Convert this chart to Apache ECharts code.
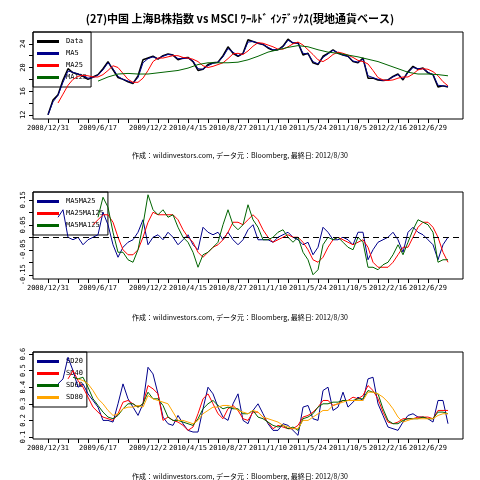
<!DOCTYPE html>
<html><head><meta charset="utf-8">
<script src="https://cdn.jsdelivr.net/npm/echarts@6/dist/echarts.min.js"></script>
<style>html,body{margin:0;padding:0;background:#fff}#c{width:480px;height:480px}</style>
</head><body><div id="c"></div>
<script>
const tickLabels = {0:'2008/12/31',10:'2009/6/17',20:'2009/12/2',28:'2010/4/15',36:'2010/8/27',44:'2011/1/10',52:'2011/5/24',60:'2011/10/5',68:'2012/2/16',76:'2012/6/29'};
const title = '(27)中国 上海B株指数 vs MSCI ﾜｰﾙﾄﾞ ｲﾝﾃﾞｯｸｽ(現地通貨ベース)';
const footnote = '作成：wildinvestors.com, データ元：Bloomberg, 最終日: 2012/8/30';

// Panel 1 (start index, values per half-tick step)
const dataStart = 0;
const data = [12.0,14.5,15.4,17.9,19.8,19.1,18.9,18.5,18.0,18.4,18.8,19.8,21.0,19.6,18.3,18.0,17.6,17.3,18.6,21.3,21.6,21.9,21.4,22.0,22.3,22.1,21.3,21.6,21.7,21.0,19.5,19.7,20.5,20.8,20.9,22.0,23.5,22.4,21.9,22.4,24.7,24.4,24.1,23.9,23.3,22.9,23.0,23.6,24.8,24.1,24.2,22.1,22.4,20.8,20.5,21.9,22.4,23.0,22.4,22.1,21.9,21.0,20.8,21.6,18.2,18.2,17.9,17.8,17.9,18.5,18.9,17.9,19.3,20.2,19.7,19.9,19.1,18.8,16.7,16.9,16.7];
const ma5 = [12.0,14.2,15.3,17.5,19.4,19.2,18.9,18.6,18.2,18.3,18.7,19.6,20.8,19.8,18.5,18.0,17.7,17.4,18.3,20.8,21.5,21.8,21.5,21.9,22.2,22.1,21.5,21.5,21.6,21.1,19.8,19.7,20.3,20.7,20.9,21.8,23.2,22.6,22.0,22.3,24.3,24.4,24.1,23.9,23.4,23.0,23.0,23.5,24.6,24.2,24.1,22.4,22.3,21.0,20.6,21.7,22.3,22.9,22.5,22.1,21.9,21.1,20.9,21.4,18.6,18.3,18.0,17.8,17.9,18.4,18.8,18.1,19.1,20.0,19.8,19.8,19.2,18.8,17.0,16.9,16.8];
const ma25Start = 2;
const ma25 = [14.0,15.5,17.0,18.0,18.5,18.7,18.6,18.4,18.4,18.8,19.5,20.3,20.0,19.0,18.0,17.5,17.5,18.2,19.5,21.0,21.6,21.6,21.8,22.0,22.0,21.7,21.6,21.4,21.0,20.3,20.0,20.2,20.5,20.8,21.5,22.3,22.4,22.2,22.8,23.6,24.2,24.1,23.8,23.5,23.1,23.1,23.5,24.0,24.3,23.8,23.0,22.2,21.3,21.0,21.5,22.2,22.6,22.4,22.1,21.7,21.2,21.0,20.6,19.5,18.3,17.9,17.8,17.9,18.2,18.4,18.4,18.9,19.6,19.8,19.7,19.3,18.6,17.6,16.9];
const ma125Start = 10;
const ma125 = [17.7,18.4,18.9,19.0,18.9,18.9,19.1,19.3,19.5,19.9,20.5,20.8,20.8,20.8,20.9,21.3,21.9,22.6,23.0,23.4,23.7,23.5,23.0,22.6,22.4,22.1,21.8,21.4,21.0,20.4,19.8,19.2,18.9,18.9,18.8,18.6];

// Panel 2
const d1Start = 2;
const d1 = [0.08,0.11,0.0,-0.01,0.0,-0.03,-0.01,0.0,0.01,0.10,0.05,-0.03,-0.08,-0.04,-0.02,-0.01,0.02,0.07,-0.03,0.0,0.01,-0.01,0.02,0.0,-0.03,-0.01,0.01,-0.03,-0.05,0.04,0.02,0.01,0.02,-0.01,0.02,-0.01,-0.03,-0.01,0.03,0.05,-0.01,-0.01,-0.01,-0.02,0.0,0.01,0.02,0.0,-0.01,-0.03,-0.02,-0.07,-0.04,0.04,0.02,-0.01,-0.01,0.0,-0.01,-0.03,0.02,0.02,-0.09,-0.05,-0.02,-0.01,0.0,0.02,-0.01,-0.06,0.02,0.04,0.02,0.01,-0.01,-0.03,-0.09,-0.03,0.0];
const d2Start = 9;
const d2 = [0.05,0.07,0.09,0.09,0.06,0.0,-0.05,-0.07,-0.07,-0.05,0.0,0.06,0.10,0.09,0.09,0.09,0.09,0.07,0.03,0.0,-0.02,-0.06,-0.08,-0.06,-0.04,-0.03,-0.01,0.02,0.06,0.06,0.05,0.07,0.09,0.07,0.03,0.0,-0.02,-0.01,0.0,0.01,0.0,0.0,-0.02,-0.05,-0.09,-0.10,-0.08,-0.04,-0.01,0.0,-0.01,-0.02,-0.03,-0.02,-0.01,-0.04,-0.10,-0.12,-0.12,-0.12,-0.10,-0.07,-0.04,-0.04,0.0,0.04,0.06,0.06,0.04,0.0,-0.06,-0.10];
const d3Start = 10;
const d3 = [0.08,0.16,0.12,0.02,-0.06,-0.06,-0.09,-0.10,-0.05,0.05,0.17,0.11,0.09,0.11,0.08,0.09,0.04,0.0,-0.02,-0.06,-0.12,-0.07,-0.06,-0.04,-0.02,0.05,0.11,0.05,0.03,0.05,0.13,0.07,0.04,-0.01,-0.01,0.0,0.02,0.03,0.0,-0.02,0.0,-0.06,-0.09,-0.15,-0.13,-0.03,0.0,-0.01,0.0,-0.02,-0.04,-0.05,0.0,-0.02,-0.12,-0.12,-0.13,-0.11,-0.10,-0.07,-0.03,-0.07,-0.02,0.03,0.07,0.06,0.05,0.02,-0.10,-0.09,-0.09];

// Panel 3
const sd20Start = 2;
const sd20 = [0.42,0.45,0.58,0.50,0.40,0.42,0.36,0.32,0.28,0.20,0.20,0.19,0.30,0.42,0.33,0.28,0.23,0.30,0.52,0.48,0.36,0.22,0.18,0.17,0.23,0.18,0.14,0.13,0.13,0.27,0.40,0.36,0.28,0.22,0.20,0.30,0.36,0.20,0.18,0.26,0.30,0.24,0.18,0.14,0.14,0.18,0.17,0.14,0.11,0.28,0.29,0.21,0.20,0.38,0.40,0.26,0.28,0.37,0.28,0.31,0.34,0.32,0.45,0.46,0.30,0.23,0.16,0.15,0.14,0.19,0.23,0.24,0.22,0.22,0.21,0.19,0.32,0.32,0.18];
const sd40Start = 4;
const sd40 = [0.45,0.50,0.44,0.40,0.34,0.28,0.25,0.22,0.21,0.20,0.24,0.31,0.32,0.30,0.28,0.30,0.41,0.39,0.36,0.20,0.22,0.20,0.19,0.17,0.14,0.16,0.24,0.33,0.36,0.30,0.24,0.21,0.27,0.29,0.26,0.21,0.20,0.25,0.25,0.22,0.19,0.15,0.17,0.16,0.15,0.15,0.17,0.22,0.23,0.25,0.28,0.32,0.32,0.29,0.30,0.32,0.32,0.34,0.33,0.35,0.41,0.38,0.33,0.25,0.19,0.18,0.19,0.21,0.21,0.21,0.22,0.22,0.22,0.21,0.26,0.26,0.26];
const sd60Start = 5;
const sd60 = [0.46,0.45,0.46,0.40,0.33,0.29,0.25,0.22,0.21,0.23,0.27,0.30,0.30,0.28,0.30,0.37,0.33,0.33,0.29,0.22,0.20,0.20,0.19,0.18,0.17,0.21,0.27,0.30,0.32,0.29,0.27,0.28,0.27,0.27,0.24,0.24,0.26,0.22,0.21,0.19,0.17,0.16,0.17,0.15,0.16,0.14,0.21,0.22,0.24,0.28,0.30,0.30,0.31,0.31,0.32,0.32,0.32,0.33,0.33,0.38,0.37,0.36,0.27,0.20,0.18,0.18,0.20,0.21,0.21,0.21,0.22,0.21,0.21,0.25,0.25,0.24];
const sd80Start = 6;
const sd80 = [0.45,0.44,0.42,0.38,0.33,0.30,0.26,0.23,0.24,0.27,0.28,0.28,0.29,0.28,0.35,0.33,0.32,0.31,0.30,0.25,0.20,0.20,0.19,0.18,0.20,0.24,0.26,0.28,0.28,0.29,0.29,0.28,0.26,0.25,0.24,0.26,0.25,0.22,0.21,0.20,0.19,0.17,0.16,0.15,0.15,0.20,0.20,0.22,0.24,0.26,0.26,0.29,0.30,0.31,0.32,0.32,0.32,0.32,0.37,0.37,0.36,0.34,0.31,0.27,0.22,0.19,0.20,0.21,0.21,0.21,0.21,0.21,0.23,0.24,0.24];

const FONT = 'DejaVu Sans Mono';
function pts(start, step, arr){ return arr.map((v,i)=>[start+i*step, v]); }
const majorTicks = []; for(let t=0;t<=78;t+=2) majorTicks.push(t);
const labelTicks = Object.keys(tickLabels).map(Number);

function xAxis(g){
  return {gridIndex:g,type:'value',min:-3,max:83,
    axisLine:{show:false,onZero:false},splitLine:{show:false},
    axisTick:{show:true,customValues:majorTicks,length:4,lineStyle:{color:'#000'}},
    axisLabel:{customValues:labelTicks,hideOverlap:false,formatter:v=>tickLabels[v]||'',color:'#000',fontFamily:FONT,fontSize:7,margin:6}};
}
function yAxis(g,min,max,ticks,labels,fmt){
  return {gridIndex:g,type:'value',min,max,
    axisLine:{show:false,onZero:false},splitLine:{show:false},
    axisTick:{show:true,customValues:ticks,length:4,lineStyle:{color:'#000'}},
    axisLabel:{customValues:labels,hideOverlap:false,rotate:90,formatter:fmt,color:'#000',fontFamily:FONT,fontSize:7,margin:6}};
}
function line(name,g,d,color,w){
  return {name,type:'line',xAxisIndex:g,yAxisIndex:g,data:d,showSymbol:false,symbol:'none',
    lineStyle:{color,width:w||1},itemStyle:{color},animation:false,z:3};
}
const grids=[{left:33,top:32,width:430,height:87},{left:33,top:192,width:430,height:87},{left:33,top:352,width:430,height:87}];
const gridBorders = grids.map(g=>({type:'rect',shape:{x:g.left,y:g.top,width:g.width,height:g.height},style:{fill:'none',stroke:'#000',lineWidth:1},z:10}));
const foot = [155,317,476].map(y=>({type:'text',x:240,y,style:{text:footnote,fill:'#000',font:'7px "Noto Sans CJK JP"',textAlign:'center',textVerticalAlign:'middle'}}));

const legendBase = {orient:'vertical',itemWidth:22,itemHeight:3,itemGap:5,icon:'rect',
  borderColor:'#000',borderWidth:1,backgroundColor:'transparent',padding:[6,4,6,4],z:1,
  textStyle:{fontFamily:FONT,fontSize:7,color:'#000',padding:[0,0,0,2]}};

const chart = echarts.init(document.getElementById('c'));
chart.setOption({
  animation:false,
  title:{text:title,left:'center',top:8,textStyle:{fontFamily:'Noto Sans CJK JP',fontSize:11,fontWeight:'bold',color:'#000'}},
  grid:grids,
  xAxis:[xAxis(0),xAxis(1),xAxis(2)],
  yAxis:[
    yAxis(0,11.3,26,[12,14,16,18,20,22,24],[12,16,20,24],v=>String(v)),
    yAxis(1,-0.167,0.181,[-0.15,-0.1,-0.05,0,0.05,0.1,0.15],[-0.15,-0.05,0.05,0.15],v=>String(+v.toFixed(2))),
    yAxis(2,0.088,0.612,[0.1,0.2,0.3,0.4,0.5,0.6],[0.1,0.2,0.3,0.4,0.5,0.6],v=>String(+v.toFixed(1)))
  ],
  legend:[
    Object.assign({},legendBase,{left:33,top:32,data:['Data','MA5','MA25','MA125']}),
    Object.assign({},legendBase,{left:33,top:192,data:['MA5MA25','MA25MA125','MA5MA125']}),
    Object.assign({},legendBase,{left:33,top:352,data:['SD20','SD40','SD60','SD80']})
  ],
  graphic:gridBorders.concat(foot),
  series:[
    line('Data',0,pts(dataStart,1,data),'#000000',1.5),
    line('MA5',0,pts(dataStart,1,ma5),'#00008B',1),
    line('MA25',0,pts(ma25Start,1,ma25),'#FF0000',1),
    line('MA125',0,pts(ma125Start,2,ma125),'#006400',1),
    Object.assign(line('MA5MA25',1,pts(d1Start,1,d1),'#00008B',1),{markLine:{silent:true,symbol:'none',label:{show:false},lineStyle:{color:'#000',type:[6,4],width:1},data:[{yAxis:0}]}}),
    line('MA25MA125',1,pts(d2Start,1,d2),'#FF0000',1),
    line('MA5MA125',1,pts(d3Start,1,d3),'#006400',1),
    line('SD20',2,pts(sd20Start,1,sd20),'#00008B',1),
    line('SD40',2,pts(sd40Start,1,sd40),'#FF0000',1),
    line('SD60',2,pts(sd60Start,1,sd60),'#006400',1),
    line('SD80',2,pts(sd80Start,1,sd80),'#FFA500',1)
  ]
});
</script></body></html>
